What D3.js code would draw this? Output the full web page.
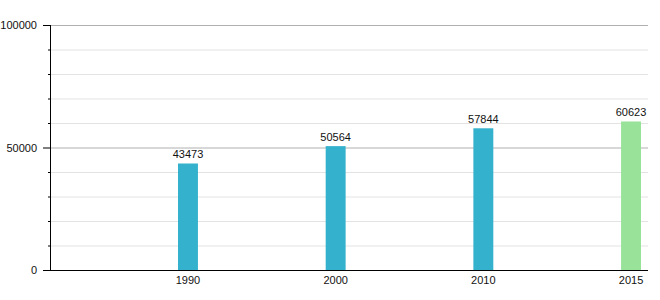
<!DOCTYPE html>
<html lang="en">
  <head>
    <script src="https://d3js.org/d3.v7.min.js"></script>
    <style>
      body { margin: 0; background: #fff; }
      text { font-family: "Liberation Sans", Arial, sans-serif; font-size: 11px; fill: #111; }
    </style>
  </head>
  <body>
    <div id="chart"></div>
    <script>
      var years = ["1990", "2000", "2010", "2015"];
      var values = [43473, 50564, 57844, 60623];
      var barColors = ["#34b2cd", "#34b2cd", "#34b2cd", "#98e29a"];
      var majorTicks = [0, 50000, 100000];
      var minorTicks = d3.range(0, 100001, 10000);

      var width = 660, height = 300;
      var plotLeft = 50, plotRight = 648, plotTop = 25, plotBottom = 270;

      var svg = d3.select("#chart").append("svg")
        .attr("width", width).attr("height", height);

      var y = d3.scaleLinear().domain([0, 100000]).range([plotBottom, plotTop]);
      var x = d3.scaleBand().domain(years).range([178, 641])
        .paddingInner(0.865).paddingOuter(0).align(1);

      // light gridlines
      svg.selectAll(".minor").data(minorTicks.filter(function (d) { return d % 50000 !== 0; }))
        .enter().append("line")
        .attr("x1", plotLeft).attr("x2", plotRight)
        .attr("y1", function (d) { return y(d) + 0.5; })
        .attr("y2", function (d) { return y(d) + 0.5; })
        .attr("stroke", "#e3e3e3");

      svg.selectAll(".major").data(majorTicks.slice(1))
        .enter().append("line")
        .attr("x1", plotLeft).attr("x2", plotRight)
        .attr("y1", function (d) { return y(d) + 0.5; })
        .attr("y2", function (d) { return y(d) + 0.5; })
        .attr("stroke", "#b0b0b0");

      // bars
      svg.selectAll(".bar").data(values).enter().append("rect")
        .attr("x", function (d, i) { return x(years[i]); })
        .attr("width", x.bandwidth())
        .attr("y", function (d) { return y(d); })
        .attr("height", function (d) { return plotBottom - y(d); })
        .attr("fill", function (d, i) { return barColors[i]; });

      svg.selectAll(".val").data(values).enter().append("text")
        .attr("x", function (d, i) { return x(years[i]) + x.bandwidth() / 2; })
        .attr("y", function (d) { return y(d) - 5; })
        .attr("text-anchor", "middle")
        .text(function (d) { return d; });

      // y axis
      svg.append("line").attr("x1", plotLeft + 0.5).attr("x2", plotLeft + 0.5)
        .attr("y1", plotTop).attr("y2", plotBottom).attr("stroke", "#000");
      svg.selectAll(".mtick").data(minorTicks).enter().append("line")
        .attr("x1", function (d) { return d % 50000 === 0 ? plotLeft - 7 : plotLeft - 2; })
        .attr("x2", plotLeft)
        .attr("y1", function (d) { return y(d) + 0.5; })
        .attr("y2", function (d) { return y(d) + 0.5; })
        .attr("stroke", "#000");
      svg.selectAll(".ylab").data(majorTicks).enter().append("text")
        .attr("x", 37)
        .attr("y", function (d) { return y(d) + 4; })
        .attr("text-anchor", "end")
        .text(function (d) { return d; });

      // x axis
      svg.append("line").attr("x1", plotLeft).attr("x2", plotRight)
        .attr("y1", plotBottom + 0.5).attr("y2", plotBottom + 0.5).attr("stroke", "#000");
      svg.selectAll(".xlab").data(years).enter().append("text")
        .attr("x", function (d) { return x(d) + x.bandwidth() / 2; })
        .attr("y", plotBottom + 14)
        .attr("text-anchor", "middle")
        .text(function (d) { return d; });
    </script>
  </body>
</html>
